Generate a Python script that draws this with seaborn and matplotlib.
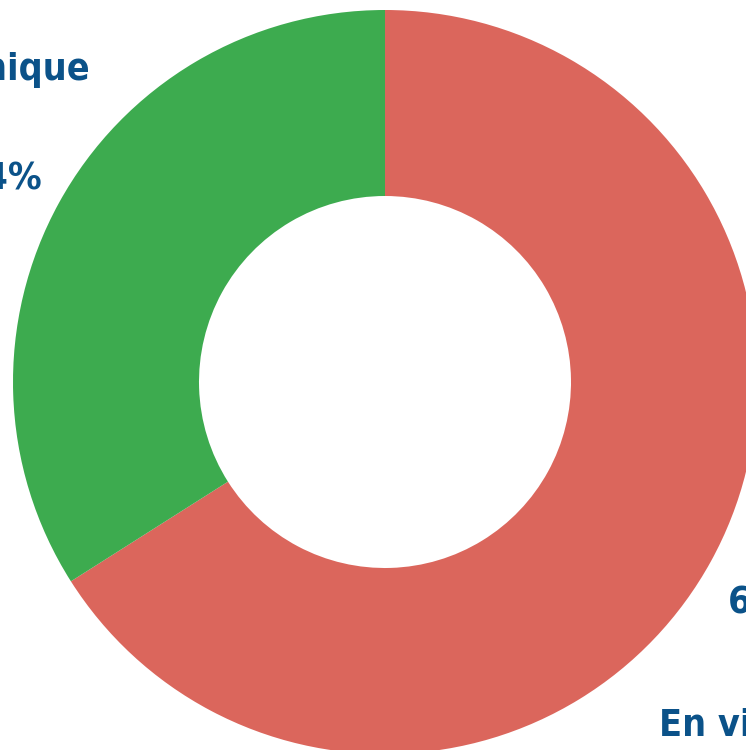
import matplotlib
matplotlib.use('Agg')
import matplotlib.pyplot as plt
import seaborn as sns

# donut data
categories = ['En ville', 'Clinique']
shares = [66, 34]
colors = ['#db665c', '#3dab4f']

sns.set_theme(style='white')
plt.rcParams['font.family'] = ['DejaVu Sans']

fig = plt.figure(figsize=(7.46, 7.5), dpi=100)
ax = fig.add_axes([0, 0, 1, 1])
ax.pie(shares, colors=colors, startangle=90, counterclock=False,
       center=(385, 368), radius=372,
       wedgeprops=dict(width=186, linewidth=0))
ax.set_xlim(0, 746)
ax.set_ylim(0, 750)
ax.set_aspect('equal')
ax.axis('off')

txt = dict(color='#0b5289', fontsize=27, fontweight='bold', fontstretch='condensed',
           ha='center', va='center')
# labels sit partly outside the canvas, like the original
ax.text(13, 750 - 70, categories[1], **txt)
ax.text(2, 750 - 180, f'{shares[1]}%', **txt)
ax.text(768, 750 - 603, f'{shares[0]}%', **txt)
ax.text(728, 750 - 725, categories[0], **txt)

fig.savefig('out.png', dpi=100)
